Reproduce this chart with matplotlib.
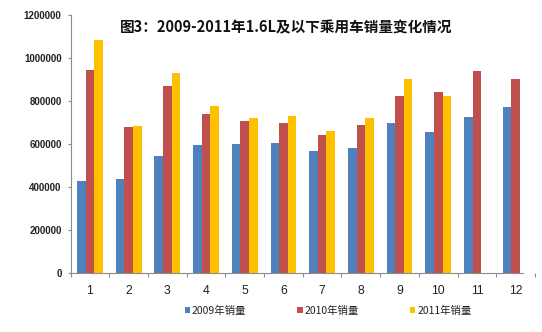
import numpy as np
import matplotlib
matplotlib.use("Agg")
import matplotlib.pyplot as plt
from matplotlib.ticker import MultipleLocator

# Data (monthly sales, 1.6L and below passenger cars)
months = [1, 2, 3, 4, 5, 6, 7, 8, 9, 10, 11, 12]
sales_2009 = [428000, 436000, 546000, 594000, 600000, 606000, 567000, 581000, 698000, 656000, 726000, 771000]
sales_2010 = [944000, 678000, 868000, 738000, 707000, 698000, 642000, 687000, 823000, 842000, 940000, 904000]
sales_2011 = [1082000, 685000, 932000, 778000, 719000, 732000, 659000, 719000, 901000, 822000, np.nan, np.nan]
series_names = ["2009年销量", "2010年销量", "2011年销量"]
colors = ["#4F81BD", "#C0504D", "#FFC000"]

title = "图3：2009-2011年1.6L及以下乘用车销量变化情况"

W, H = 542, 332
fig = plt.figure(figsize=(W / 100, H / 100), dpi=100)
ax = fig.add_axes([70.6 / W, (H - 273) / H, (535 - 70.6) / W, 258 / H])

x = np.array(months)
bw = 0.222
for i, (vals, name, c) in enumerate(zip([sales_2009, sales_2010, sales_2011], series_names, colors)):
    ax.bar(x + (i - 1) * bw, vals, width=bw, color=c, label=name, linewidth=0)

ax.set_xlim(0.5, 12.5)
ax.set_ylim(0, 1200000)
ax.set_yticks(range(0, 1200001, 200000))
ax.ticklabel_format(axis="y", style="plain", useOffset=False)
ax.set_xticks(months)
ax.xaxis.set_minor_locator(MultipleLocator(1, offset=0.5))

for s in ["top", "right"]:
    ax.spines[s].set_visible(False)
for s in ["left", "bottom"]:
    ax.spines[s].set_color("#8c8c8c")
    ax.spines[s].set_linewidth(0.8)
ax.spines["bottom"].set_bounds(0.5, 12.19)

ax.tick_params(axis="y", direction="out", length=2.5, width=0.8, color="#8c8c8c", pad=4)
ax.tick_params(axis="x", which="major", length=0, pad=8.5)
ax.tick_params(axis="x", which="minor", direction="out", length=3, width=0.8, color="#8c8c8c")

for lab in ax.get_yticklabels():
    lab.set_fontfamily("Liberation Sans")
    lab.set_fontweight("bold")
    lab.set_fontsize(7)
    lab.set_color("#222222")
for lab in ax.get_xticklabels():
    lab.set_fontfamily("Liberation Sans")
    lab.set_fontsize(8.8)
    lab.set_color("#222222")

fig.text(286 / W, 1 - 27 / H, title, ha="center", va="center",
         fontsize=10.5, fontweight="bold", family=["Noto Sans CJK SC", "DejaVu Sans"],
         color="#111111")

leg = ax.legend(loc="center", bbox_to_anchor=(328 / W, 1 - 311 / H),
                bbox_transform=fig.transFigure, ncol=3, frameon=False,
                prop={"family": ["Noto Sans CJK SC", "DejaVu Sans"], "size": 7.5},
                handlelength=0.5, handleheight=0.5, handletextpad=0.2,
                columnspacing=4.9, borderpad=0, borderaxespad=0)
for t in leg.get_texts():
    t.set_color("#222222")

fig.savefig("out.png", dpi=100)
